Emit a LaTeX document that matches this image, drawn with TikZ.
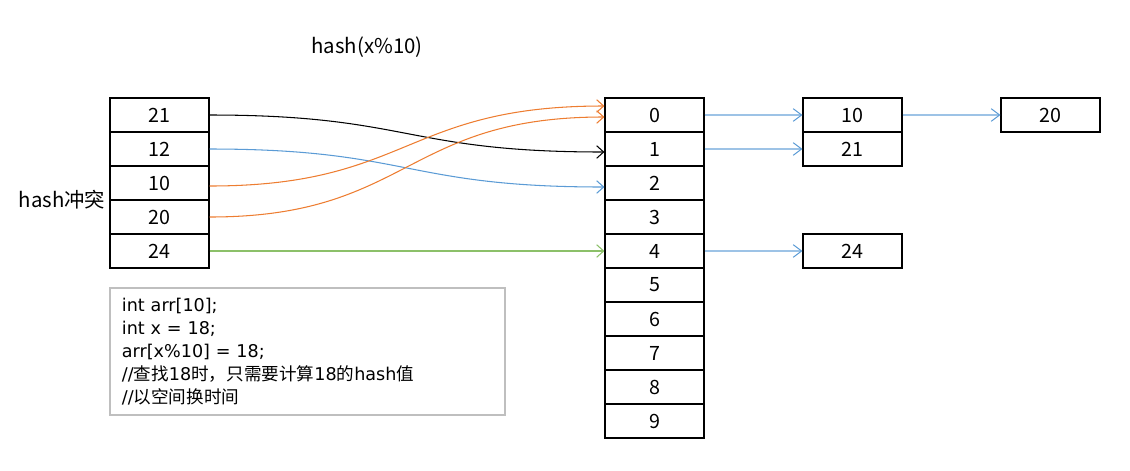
\documentclass[tikz,border=0pt]{standalone}
\usepackage{fontspec}
\newfontfamily\cjk{Noto Sans CJK SC}
\newfontfamily\dejavu{DejaVu Sans}
\usetikzlibrary{calc}
\usetikzlibrary{arrows.meta}

\definecolor{hblue}{RGB}{91,155,213}
\definecolor{hpale}{RGB}{157,195,230}
\definecolor{horange}{RGB}{237,125,49}
\definecolor{hgreen}{RGB}{140,192,105}
\definecolor{hgray}{RGB}{191,191,191}

\begin{document}
\begin{tikzpicture}[x=0.025cm,y=-0.025cm,
  slot/.style={draw,line width=0.8pt,minimum width=2.475cm,minimum height=0.85cm,inner sep=0pt,font=\cjk\fontsize{14}{16}\selectfont},
  hop/.style={-{Straight Barb[length=5pt,width=9pt]},line width=0.75pt},
  chain/.style={-{Straight Barb[length=6pt,width=9pt,line width=0.7pt,color=hblue]},hpale,line width=1.4pt}]
\useasboundingbox (0,0) rectangle (1130,470);

\node (title) at (367,47) [font=\cjk\fontsize{14.5}{17}\selectfont] {hash(x\%10)};
\node (clash) at (62,200) [font=\cjk\fontsize{14.5}{17}\selectfont] {hash冲突};

% keys
\node (K1) at (159.5,115) [slot] {21};
\node (K2) at (159.5,149) [slot] {12};
\node (K3) at (159.5,183) [slot] {10};
\node (K4) at (159.5,217) [slot] {20};
\node (K5) at (159.5,251) [slot] {24};

% buckets
\node (B0) at (654.5,115) [slot] {0};
\node (B1) at (654.5,149) [slot] {1};
\node (B2) at (654.5,183) [slot] {2};
\node (B3) at (654.5,217) [slot] {3};
\node (B4) at (654.5,251) [slot] {4};
\node (B5) at (654.5,285) [slot] {5};
\node (B6) at (654.5,319) [slot] {6};
\node (B7) at (654.5,353) [slot] {7};
\node (B8) at (654.5,387) [slot] {8};
\node (B9) at (654.5,421) [slot] {9};

% chains
\node (C0) at (852.5,115) [slot] {10};
\node (C1) at (852.5,149) [slot] {21};
\node (C4) at (852.5,251) [slot] {24};
\node (D0) at (1050.5,115) [slot] {20};

\draw [hop,black] (K1.east) .. controls +(200,0) and +(-200,0) .. ($(B1.west)+(0,3)$);
\draw [hop,hblue] (K2.east) .. controls +(200,0) and +(-200,0) .. ($(B2.west)+(0,4)$);
\draw [hop,horange] ($(K3.east)+(0,3)$) .. controls +(200,0) and +(-200,0) .. ($(B0.west)+(0,-9)$);
\draw [hop,horange] (K4.east) .. controls +(200,0) and +(-200,0) .. ($(B0.west)+(0,2)$);
\draw [hop,hgreen] (K5) -- (B4);

\draw [chain] (B0) -- (C0);
\draw [chain] (B1) -- (C1);
\draw [chain] (B4) -- (C4);
\draw [chain] (C0) -- (D0);

\node (code) at (307.5,351.5) [draw=hgray,line width=0.8pt,minimum width=9.875cm,minimum height=3.175cm,
  text width=9.275cm,inner xsep=0.3cm,align=left,font=\dejavu\fontsize{12.5}{16.3}\selectfont]
  {int arr[10];\\
   int x = 18;\\
   arr[x\%10] = 18;\\
   //{\cjk 查找}18{\cjk 时，只需要计算}18{\cjk 的}hash{\cjk 值}\\
   //{\cjk 以空间换时间}};
\end{tikzpicture}
\end{document}
